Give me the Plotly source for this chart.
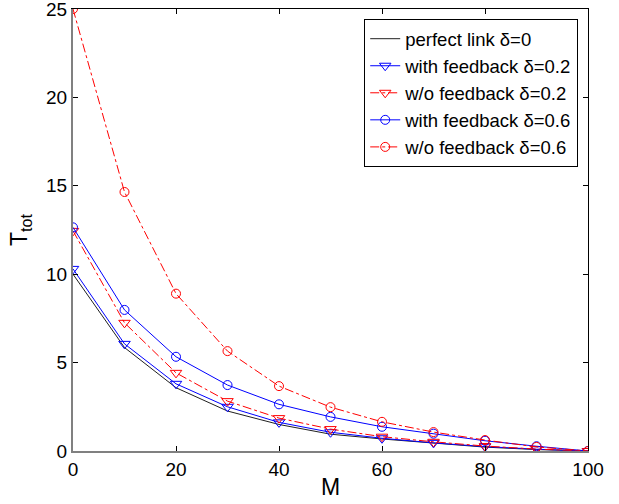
import plotly.graph_objects as go

M = [0, 10, 20, 30, 40, 50, 60, 70, 80, 90, 100]
perfect = [10.0, 5.85, 3.58, 2.26, 1.5, 0.95, 0.68, 0.43, 0.22, 0.08, 0.0]
fb_02 = [10.3, 6.06, 3.8, 2.5, 1.62, 1.06, 0.72, 0.46, 0.25, 0.1, 0.0]
nofb_02 = [12.45, 7.25, 4.42, 2.82, 1.86, 1.24, 0.81, 0.52, 0.28, 0.11, 0.0]
fb_06 = [12.65, 7.98, 5.33, 3.73, 2.64, 1.93, 1.37, 0.98, 0.58, 0.27, 0.0]
nofb_06 = [25.0, 14.65, 8.9, 5.65, 3.67, 2.48, 1.65, 1.07, 0.62, 0.23, 0.0]

names = ["perfect link δ=0", "with feedback δ=0.2", "w/o feedback δ=0.2",
         "with feedback δ=0.6", "w/o feedback δ=0.6"]

FONT = "Liberation Sans, Arial, sans-serif"

fig = go.Figure()
fig.add_trace(go.Scatter(x=M, y=perfect, mode="lines", name=names[0],
                         line=dict(color="#202020", width=1)))
fig.add_trace(go.Scatter(x=M, y=fb_02, mode="lines+markers", name=names[1],
                         line=dict(color="#0000ff", width=1),
                         marker=dict(symbol="triangle-down-open", size=10, color="#0000ff", line=dict(width=1))))
fig.add_trace(go.Scatter(x=M, y=nofb_02, mode="lines+markers", name=names[2],
                         line=dict(color="#ff0000", width=1, dash="dashdot"),
                         marker=dict(symbol="triangle-down-open", size=10, color="#ff0000", line=dict(width=1))))
fig.add_trace(go.Scatter(x=M, y=fb_06, mode="lines+markers", name=names[3],
                         line=dict(color="#0000ff", width=1),
                         marker=dict(symbol="circle-open", size=9, color="#0000ff", line=dict(width=1))))
fig.add_trace(go.Scatter(x=M, y=nofb_06, mode="lines+markers", name=names[4],
                         line=dict(color="#ff0000", width=1, dash="dashdot"),
                         marker=dict(symbol="circle-open", size=9, color="#ff0000", line=dict(width=1))))

# invisible trace for mirrored top/right axes
fig.add_trace(go.Scatter(x=M, y=perfect, xaxis="x2", yaxis="y2", mode="lines",
                         line=dict(width=0), showlegend=False, hoverinfo="skip", opacity=0))

fig.update_layout(
    width=619, height=504,
    margin=dict(l=73, r=31, t=9, b=53),
    paper_bgcolor="white", plot_bgcolor="white",
    font=dict(family=FONT, size=19, color="black"),
    showlegend=True,
    legend=dict(x=0.981, y=0.977, xanchor="right", yanchor="top",
                bgcolor="white", bordercolor="black", borderwidth=1,
                font=dict(family=FONT, size=18.5, color="black"),
                tracegroupgap=0, itemwidth=30),
    xaxis=dict(range=[0, 100], tickvals=[0, 20, 40, 60, 80, 100],
               showline=True, linecolor="#808080", linewidth=2,
               ticks="inside", ticklen=5, tickcolor="black",
               showgrid=False, zeroline=False, automargin=False,
               ticklabeloverflow="allow",
               title=dict(text="M", standoff=0),
               tickfont=dict(size=19)),
    yaxis=dict(range=[0, 25], tickvals=[0, 5, 10, 15, 20, 25],
               showline=True, linecolor="#808080", linewidth=2,
               ticks="inside", ticklen=5, tickcolor="black",
               showgrid=False, zeroline=False, automargin=False,
               ticklabeloverflow="allow",
               title=dict(text="T<sub>tot</sub>", standoff=12),
               tickfont=dict(size=19)),
    xaxis2=dict(range=[0, 100], tickvals=[0, 20, 40, 60, 80, 100], overlaying="x",
                side="top", showline=True, linecolor="black", linewidth=1,
                ticks="inside", ticklen=5, tickcolor="black", automargin=False,
                showticklabels=False, showgrid=False, zeroline=False),
    yaxis2=dict(range=[0, 25], tickvals=[0, 5, 10, 15, 20, 25], overlaying="y",
                side="right", showline=True, linecolor="black", linewidth=1,
                ticks="inside", ticklen=5, tickcolor="black", automargin=False,
                showticklabels=False, showgrid=False, zeroline=False),
)

fig.write_html("out.html", config={"displayModeBar": False},
               post_script="document.body.style.margin='0px';document.body.style.padding='0px';")
